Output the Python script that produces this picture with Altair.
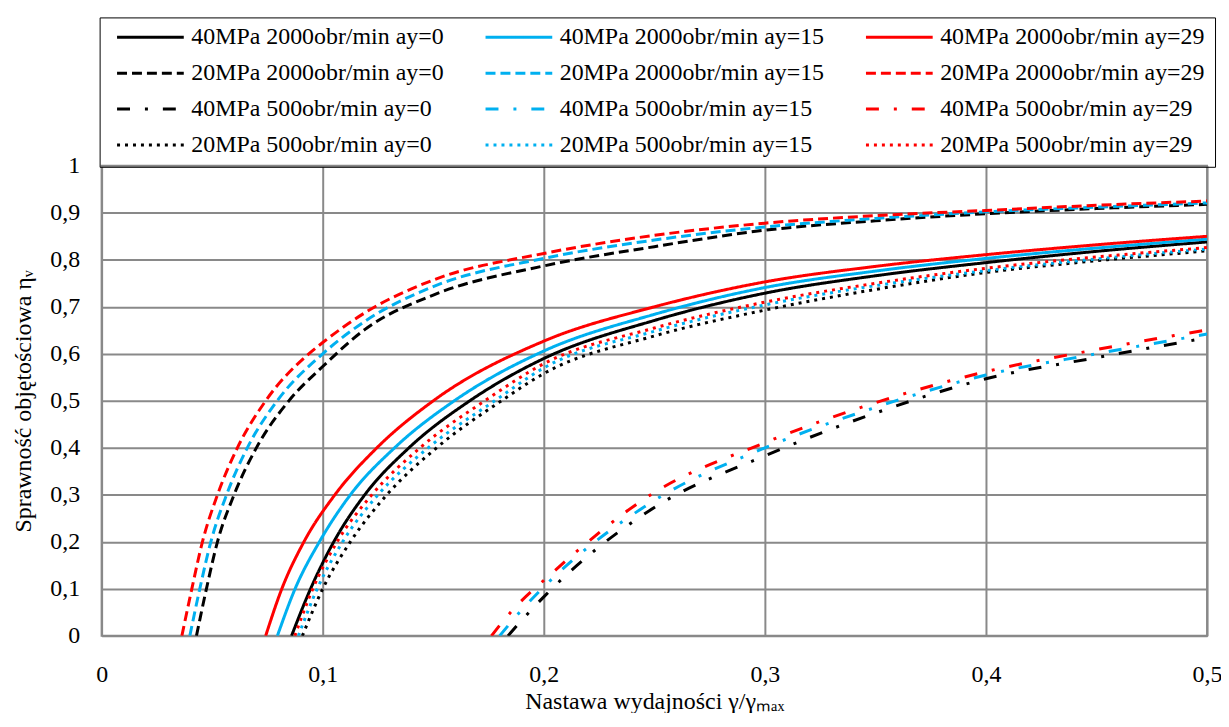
import altair as alt
import pandas as pd

SERIES = [
    "40MPa 2000obr/min ay=0", "40MPa 2000obr/min ay=15", "40MPa 2000obr/min ay=29",
    "20MPa 2000obr/min ay=0", "20MPa 2000obr/min ay=15", "20MPa 2000obr/min ay=29",
    "40MPa 500obr/min ay=0", "40MPa 500obr/min ay=15", "40MPa 500obr/min ay=29",
    "20MPa 500obr/min ay=0", "20MPa 500obr/min ay=15", "20MPa 500obr/min ay=29",
]
COLORS = ["#000000", "#00B0F0", "#FF0000"] * 4
DASHES = [[1, 0]] * 3 + [[10, 5]] * 3 + [[13, 15, 3, 15]] * 3 + [[3, 5]] * 3

# 40MPa 2000obr/min
X_40_2000_0 = [0.0859, 0.0945, 0.105, 0.119, 0.139, 0.1665, 0.2, 0.25, 0.3, 0.35, 0.4, 0.45, 0.5]
Y_40_2000_0 = [0.0, 0.1, 0.2, 0.3, 0.4, 0.5, 0.59, 0.671, 0.729, 0.766, 0.794, 0.818, 0.838]
X_40_2000_15 = [0.0795, 0.0875, 0.0985, 0.1125, 0.1325, 0.1595, 0.2, 0.25, 0.3, 0.35, 0.4, 0.45, 0.5]
Y_40_2000_15 = [0.0, 0.1, 0.2, 0.3, 0.4, 0.5, 0.606, 0.684, 0.741, 0.776, 0.803, 0.825, 0.844]
X_40_2000_29 = [0.0742, 0.0815, 0.0915, 0.1055, 0.1245, 0.15, 0.2, 0.25, 0.3, 0.35, 0.4, 0.45, 0.5]
Y_40_2000_29 = [0.0, 0.1, 0.2, 0.3, 0.4, 0.5, 0.627, 0.70, 0.753, 0.786, 0.811, 0.832, 0.85]

# 20MPa 2000obr/min
X_20_2000_0 = [0.0429, 0.0474, 0.0524, 0.0599, 0.07, 0.0847, 0.1, 0.12, 0.15, 0.2, 0.25, 0.3, 0.35, 0.4, 0.45, 0.5]
Y_20_2000_0 = [0.0, 0.1, 0.2, 0.3, 0.4, 0.5, 0.573, 0.655, 0.725, 0.787, 0.828, 0.863, 0.883, 0.898, 0.909, 0.918]
X_20_2000_15 = [0.0399, 0.0444, 0.0494, 0.0565, 0.0659, 0.0794, 0.1, 0.12, 0.15, 0.2, 0.25, 0.3, 0.35, 0.4, 0.45, 0.5]
Y_20_2000_15 = [0.0, 0.1, 0.2, 0.3, 0.4, 0.5, 0.6, 0.672, 0.743, 0.803, 0.842, 0.87, 0.888, 0.902, 0.912, 0.921]
X_20_2000_29 = [0.0363, 0.0408, 0.0456, 0.0524, 0.0614, 0.0742, 0.0937, 0.1, 0.12, 0.15, 0.2, 0.25, 0.3, 0.35, 0.4, 0.45, 0.5]
Y_20_2000_29 = [0.0, 0.1, 0.2, 0.3, 0.4, 0.5, 0.6, 0.624, 0.69, 0.757, 0.8135, 0.852, 0.878, 0.894, 0.905, 0.916, 0.925]

# 40MPa 500obr/min
X_40_500_0 = [0.1838, 0.19, 0.2, 0.25, 0.3, 0.35, 0.4, 0.45, 0.5]
Y_40_500_0 = [0.0, 0.033, 0.083, 0.273, 0.383, 0.474, 0.547, 0.592, 0.634]
X_40_500_15 = [0.18, 0.185, 0.19, 0.2, 0.25, 0.3, 0.35, 0.4, 0.45, 0.5]
Y_40_500_15 = [0.0, 0.028, 0.055, 0.104, 0.288, 0.4, 0.486, 0.555, 0.6, 0.642]
X_40_500_29 = [0.1763, 0.185, 0.19, 0.2, 0.25, 0.3, 0.35, 0.4, 0.45, 0.5]
Y_40_500_29 = [0.0, 0.05, 0.075, 0.118, 0.305, 0.411, 0.496, 0.562, 0.609, 0.651]

# 20MPa 500obr/min
X_20_500_0 = [0.0908, 0.1, 0.1125, 0.129, 0.1515, 0.1808, 0.2, 0.25, 0.3, 0.35, 0.4, 0.45, 0.5]
Y_20_500_0 = [0.0, 0.1, 0.2, 0.3, 0.4, 0.5, 0.558, 0.638, 0.693, 0.737, 0.773, 0.798, 0.819]
X_20_500_15 = [0.089, 0.0975, 0.109, 0.125, 0.1477, 0.1778, 0.2, 0.25, 0.3, 0.35, 0.4, 0.45, 0.5]
Y_20_500_15 = [0.0, 0.1, 0.2, 0.3, 0.4, 0.5, 0.57, 0.648, 0.704, 0.745, 0.777, 0.802, 0.823]
X_20_500_29 = [0.0874, 0.0955, 0.1065, 0.1222, 0.144, 0.1733, 0.2, 0.25, 0.3, 0.35, 0.4, 0.45, 0.5]
Y_20_500_29 = [0.0, 0.1, 0.2, 0.3, 0.4, 0.5, 0.579, 0.655, 0.71, 0.75, 0.782, 0.806, 0.826]

SERIES_DATA = [
    (X_40_2000_0, Y_40_2000_0), (X_40_2000_15, Y_40_2000_15), (X_40_2000_29, Y_40_2000_29),
    (X_20_2000_0, Y_20_2000_0), (X_20_2000_15, Y_20_2000_15), (X_20_2000_29, Y_20_2000_29),
    (X_40_500_0, Y_40_500_0), (X_40_500_15, Y_40_500_15), (X_40_500_29, Y_40_500_29),
    (X_20_500_0, Y_20_500_0), (X_20_500_15, Y_20_500_15), (X_20_500_29, Y_20_500_29),
]

X_TICKS = [0, 0.1, 0.2, 0.3, 0.4, 0.5]
Y_TICKS = [0, 0.1, 0.2, 0.3, 0.4, 0.5, 0.6, 0.7, 0.8, 0.9, 1.0]

rows = []
for i, (name, (xs, ys)) in enumerate(zip(SERIES, SERIES_DATA)):
    for j, (x, y) in enumerate(zip(xs, ys)):
        rows.append({"series": name, "x": x, "y": y, "order": j, "idx": i})
df = pd.DataFrame(rows)

# legend fills column by column (4 rows, 3 columns)
ORDER_IDX = [r * 3 + c for c in range(3) for r in range(4)]
LEG_DOMAIN = [SERIES[k] for k in ORDER_IDX]
LEG_COLORS = [COLORS[k] for k in ORDER_IDX]
LEG_DASHES = [DASHES[k] for k in ORDER_IDX]

FONT = "Liberation Serif, Times New Roman, serif"
GRID = "#898989"
LABEL_EXPR = "replace(format(datum.value, '.1~f'), '.', ',')"


def make_legend():
    return alt.Legend(title=None, orient="none", legendX=-2, legendY=-149,
                      columns=3, symbolType="stroke", symbolSize=4489,
                      symbolStrokeWidth=3, clipHeight=20, rowPadding=12,
                      columnPadding=34, padding=10, symbolOffset=6,
                      labelOffset=6, labelLimit=500, strokeColor="#000000",
                      labelFont=FONT, labelFontSize=24, labelColor="#000000")


chart = alt.Chart(df).mark_line(
    strokeWidth=3, interpolate="monotone", strokeCap="butt", clip=True
).encode(
    x=alt.X("x:Q",
            scale=alt.Scale(domain=[0, 0.5], nice=False),
            axis=alt.Axis(values=X_TICKS, labelExpr=LABEL_EXPR, title="Nastawa wydajności γ/γₘₐₓ",
                          grid=True, gridColor=GRID, gridWidth=2, domain=False, ticks=False,
                          labelPadding=27, titlePadding=3, labelFlush=False)),
    y=alt.Y("y:Q",
            scale=alt.Scale(domain=[0, 1], nice=False),
            axis=alt.Axis(values=Y_TICKS, labelExpr=LABEL_EXPR, title="Sprawność objętościowa ηᵥ",
                          grid=True, gridColor=GRID, gridWidth=2, domain=False, ticks=False,
                          labelPadding=22, titlePadding=14)),
    color=alt.Color("series:N",
                    scale=alt.Scale(domain=LEG_DOMAIN, range=LEG_COLORS),
                    legend=make_legend()),
    strokeDash=alt.StrokeDash("series:N",
                              scale=alt.Scale(domain=LEG_DOMAIN, range=LEG_DASHES),
                              legend=make_legend()),
    order=alt.Order("order:Q"),
    detail="series:N",
).properties(
    width=1110,
    height=472,
    autosize=alt.AutoSizeParams(type="none"),
    padding={"left": 94, "top": 157, "right": 14, "bottom": 76},
    background="#ffffff",
).configure_view(
    stroke=GRID, strokeWidth=2
).configure_axis(
    labelFont=FONT, labelFontSize=24, labelColor="#000000",
    titleFont=FONT, titleFontSize=24, titleColor="#000000", titleFontWeight="normal",
)

chart.save("out.html", embed_options={"renderer": "svg", "actions": False})
